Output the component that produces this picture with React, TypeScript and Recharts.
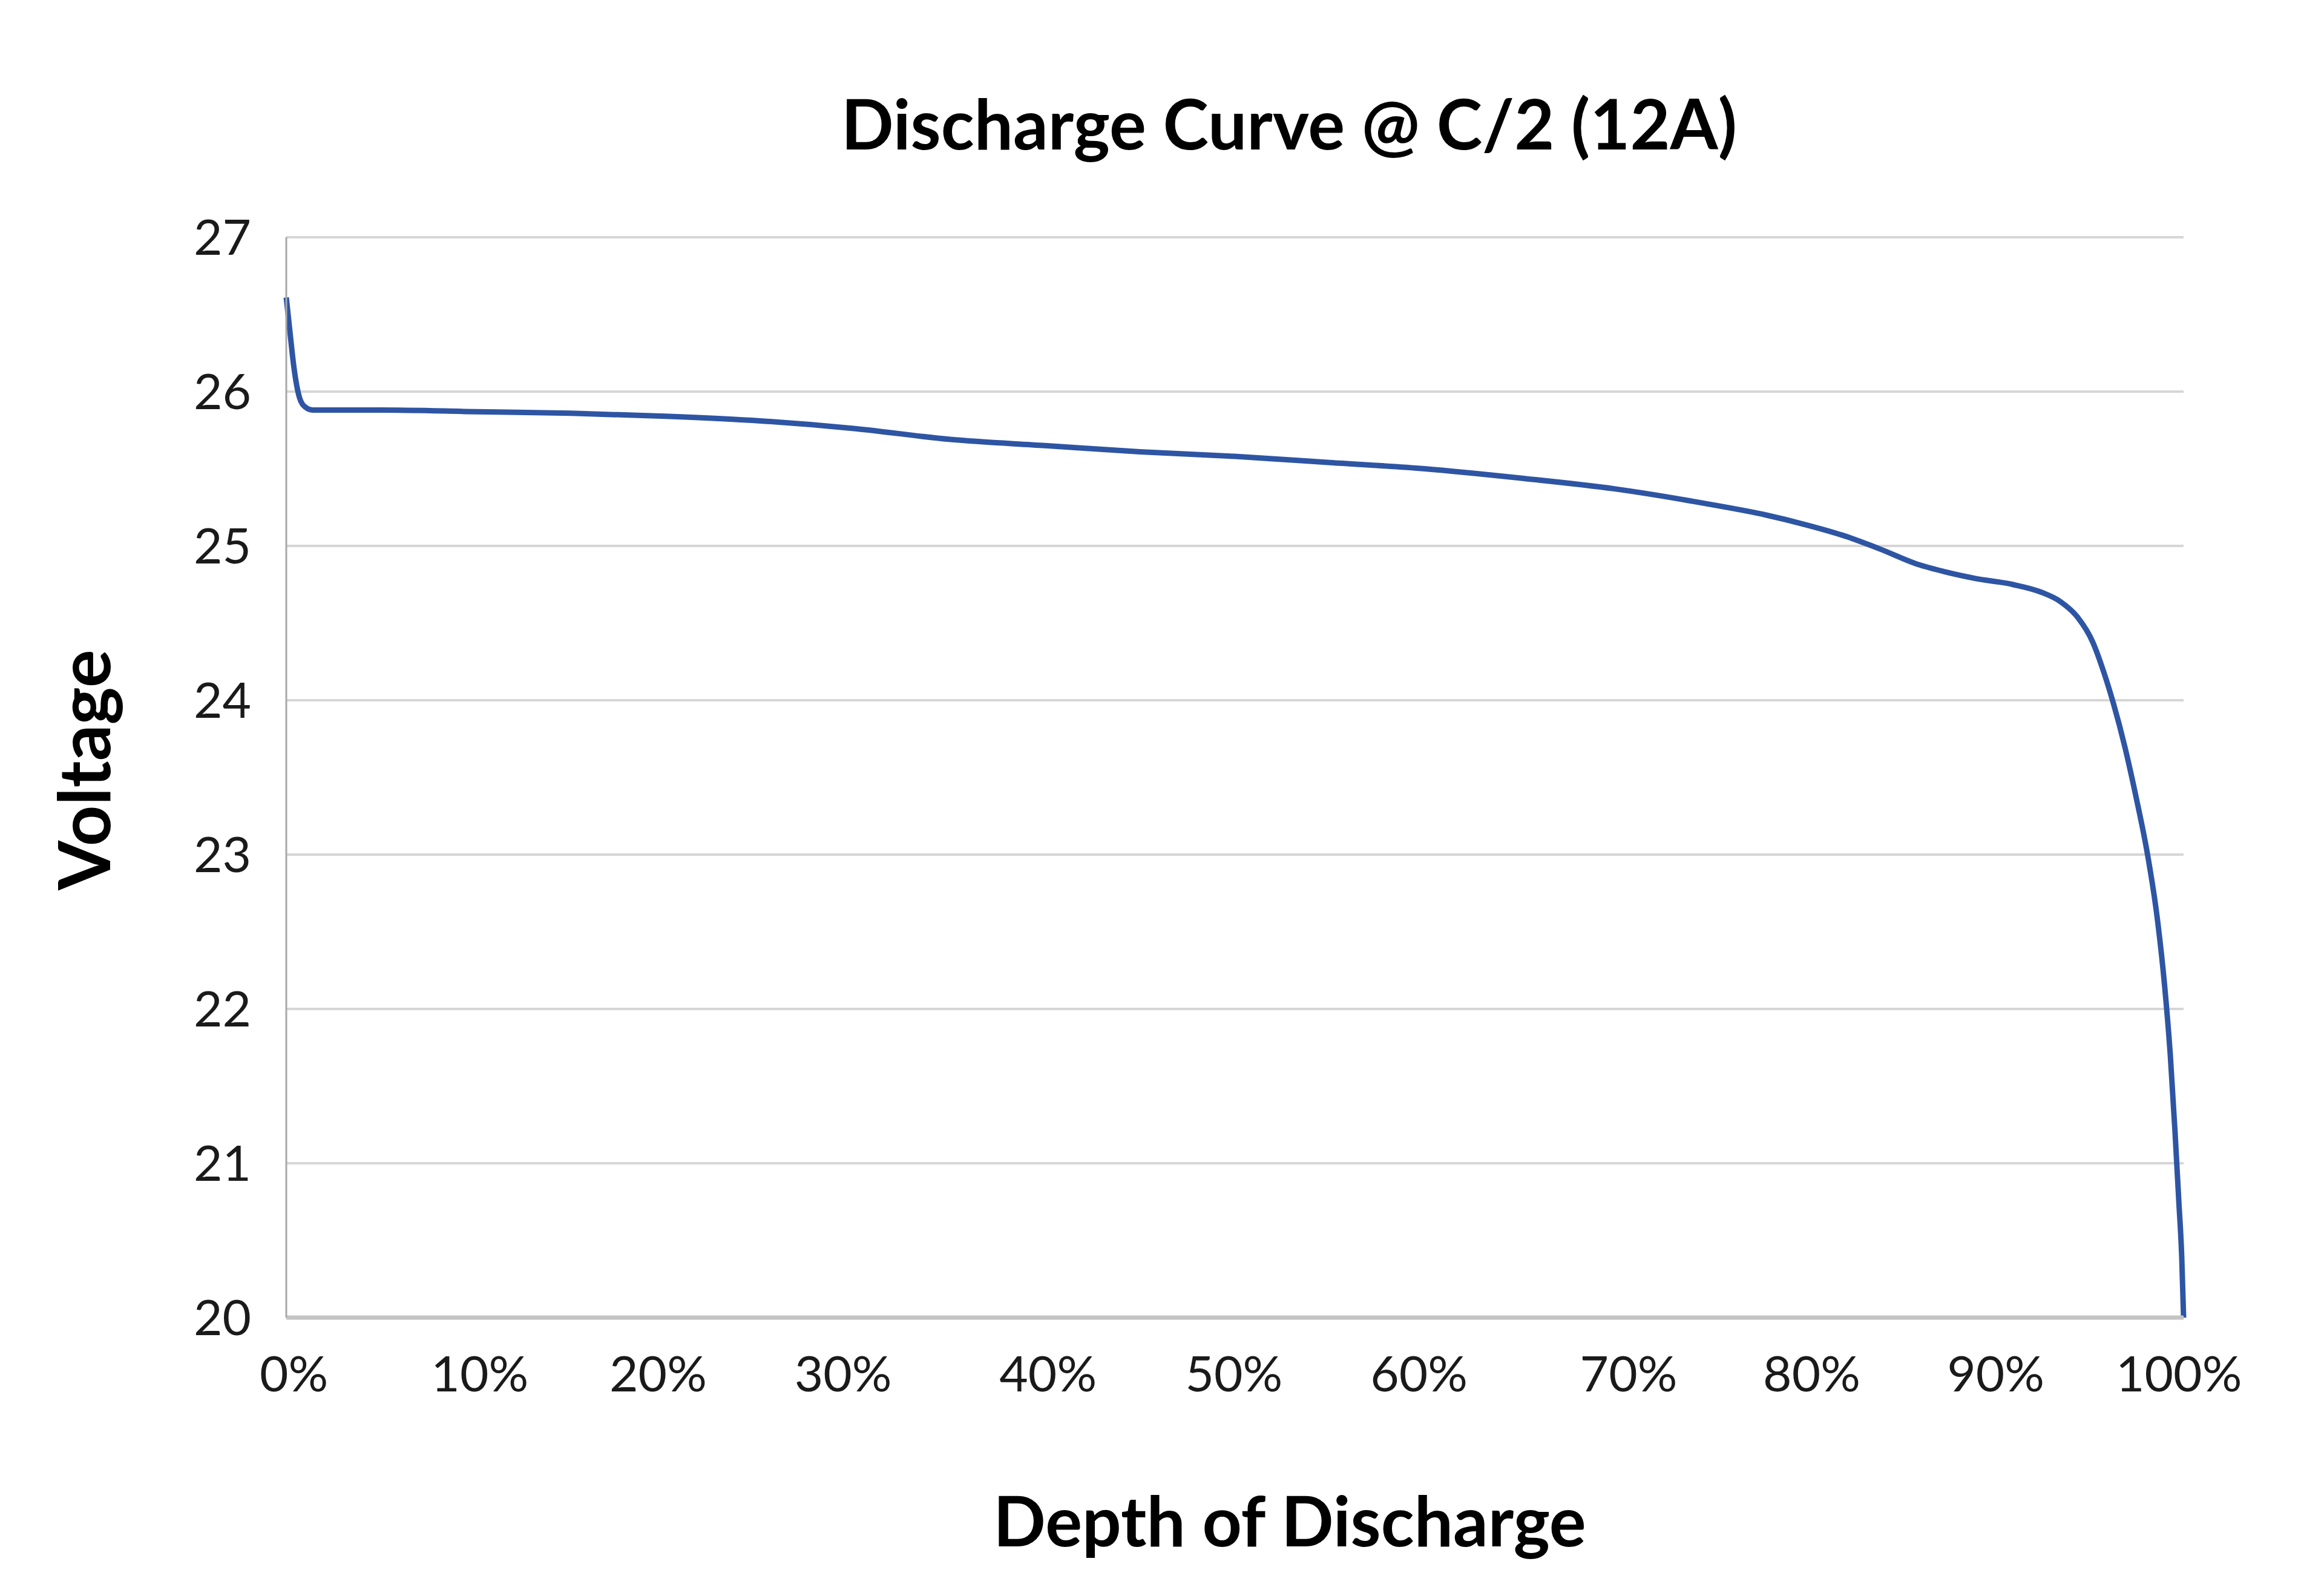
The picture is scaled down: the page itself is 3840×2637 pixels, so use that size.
import { CartesianGrid, Line, LineChart, XAxis, YAxis } from 'recharts'

// depth of discharge (%) and pack voltage
const dod = [
  0, 0.2, 0.4, 0.7, 1.0, 1.4, 5, 10, 15, 20, 25, 30, 35, 40, 45, 50, 55, 60, 65, 70, 75, 78, 80, 82, 84, 86, 87.5,
  89, 91, 92.5, 93.5, 94.4, 95.2, 95.8, 96.3, 96.9, 97.5, 98.1, 98.6, 99.0, 99.3, 99.55, 99.75, 99.9, 100,
]
const voltage = [
  26.61, 26.38, 26.16, 25.96, 25.9, 25.88, 25.88, 25.87, 25.86, 25.84, 25.81, 25.76, 25.69, 25.65, 25.61, 25.58,
  25.54, 25.5, 25.44, 25.37, 25.27, 25.2, 25.14, 25.07, 24.98, 24.88, 24.83, 24.79, 24.75, 24.7, 24.64, 24.54,
  24.38, 24.18, 23.98, 23.7, 23.37, 23.0, 22.6, 22.15, 21.7, 21.2, 20.75, 20.4, 20.0,
]

// where Excel put its category labels, and what they say
const xTickValues = [0.4, 10.2, 19.6, 29.35, 40.15, 49.95, 59.7, 70.75, 80.4, 90.1, 99.75]
const xTickLabels = ['0%', '10%', '20%', '30%', '40%', '50%', '60%', '70%', '80%', '90%', '100%']
const yTicks = [20, 21, 22, 23, 24, 25, 26, 27]

const title = 'Discharge Curve @ C/2 (12A)'
const xTitle = 'Depth of Discharge'
const yTitle = 'Voltage'

const data = dod.map((d, i) => ({ dod: d, v: voltage[i] }))

const FONT = 'Lato, "Open Sans", sans-serif'

const App = () => (
  <div style={{ position: 'absolute', left: 0, top: 0, width: 3840, height: 2637, background: '#fff' }}>
    <LineChart width={3840} height={2637} data={data} margin={{ top: 392, right: 232, bottom: 360, left: 373 }}>
      <CartesianGrid vertical={false} stroke="#d6d6d6" strokeWidth={4} />
      <XAxis
        dataKey="dod"
        type="number"
        domain={[0, 100]}
        ticks={xTickValues}
        interval={0}
        height={100}
        tickLine={false}
        tickSize={0}
        tickMargin={64}
        axisLine={{ stroke: '#c4c4c4', strokeWidth: 7 }}
        tick={{ fontSize: 82, fill: '#1a1a1a', fontFamily: FONT }}
        tickFormatter={(_v: number, i: number) => xTickLabels[i]}
      />
      <YAxis
        type="number"
        domain={[20, 27]}
        ticks={yTicks}
        interval={0}
        width={100}
        tickLine={false}
        tickSize={0}
        tickMargin={58}
        axisLine={{ stroke: '#a8a8a8', strokeWidth: 3 }}
        tick={{ fontSize: 82, fill: '#1a1a1a', fontFamily: FONT }}
      />
      <Line
        type="monotone"
        dataKey="v"
        stroke="#2e55a3"
        strokeWidth={9}
        dot={false}
        activeDot={false}
        isAnimationActive={false}
      />
    </LineChart>
    <svg
      width={3840}
      height={2637}
      style={{ position: 'absolute', left: 0, top: 0, pointerEvents: 'none' }}
      fontFamily={FONT}>
      <text x={2130} y={247} textAnchor="middle" fontSize={114} fontWeight={700} fill="#000">
        {title}
      </text>
      <text x={2131} y={2555} textAnchor="middle" fontSize={114} fontWeight={700} fill="#000">
        {xTitle}
      </text>
      <text transform="translate(182,1272) rotate(-90)" textAnchor="middle" fontSize={118} fontWeight={700} fill="#000">
        {yTitle}
      </text>
    </svg>
  </div>
)

export default App
